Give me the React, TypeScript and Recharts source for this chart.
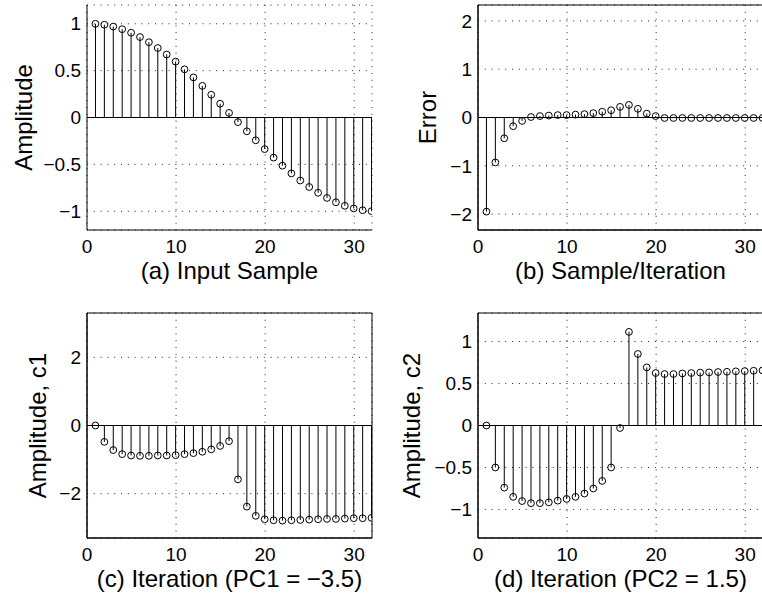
import React from "react";
import { Bar, CartesianGrid, ComposedChart, Label, ReferenceArea, ReferenceLine, XAxis, YAxis } from "recharts";

// sample index 1..32
const samples = [1, 2, 3, 4, 5, 6, 7, 8, 9, 10, 11, 12, 13, 14, 15, 16, 17, 18, 19, 20, 21, 22, 23, 24, 25, 26, 27, 28, 29, 30, 31, 32];
const xTicks = [0, 10, 20, 30];

// (a) input sample
const inputSample = [
  0.999, 0.989, 0.97, 0.942, 0.904, 0.858, 0.803, 0.741, 0.672, 0.596, 0.514, 0.428, 0.337, 0.243, 0.147, 0.049,
  -0.049, -0.147, -0.243, -0.337, -0.428, -0.514, -0.596, -0.672, -0.741, -0.803, -0.858, -0.904, -0.942, -0.97, -0.989, -0.999,
];
// (b) error
const errorValues = [
  -1.95, -0.93, -0.43, -0.18, -0.07, 0.01, 0.03, 0.04, 0.05, 0.05, 0.06, 0.07, 0.09, 0.12, 0.15, 0.22,
  0.26, 0.18, 0.08, 0.03, -0.01, -0.01, -0.01, -0.01, -0.01, -0.01, -0.01, -0.01, -0.01, -0.01, -0.01, -0.01,
];
// (c) c1
const c1Values = [
  0, -0.48, -0.72, -0.84, -0.88, -0.89, -0.89, -0.88, -0.88, -0.87, -0.84, -0.81, -0.77, -0.7, -0.6, -0.46,
  -1.58, -2.38, -2.65, -2.75, -2.78, -2.79, -2.78, -2.77, -2.76, -2.75, -2.74, -2.74, -2.73, -2.72, -2.72, -2.71,
];
// (d) c2
const c2Values = [
  0, -0.5, -0.74, -0.85, -0.9, -0.925, -0.925, -0.915, -0.895, -0.875, -0.85, -0.81, -0.75, -0.66, -0.5, -0.03,
  1.115, 0.852, 0.692, 0.625, 0.613, 0.613, 0.62, 0.625, 0.63, 0.632, 0.637, 0.64, 0.645, 0.648, 0.652, 0.656,
];

const FONT = "'Liberation Sans', Arial, Helvetica, sans-serif";

const fmt = (v: number) => (v < 0 ? "\u2212" + String(-v) : String(v));

// stem: line from zero to the value, open circle at the value
const Stem = (props: any) => {
  const { x, y, width, height, payload } = props;
  if (x == null || y == null) return null;
  const cx = x + width / 2;
  const a = Math.min(y, y + height);
  const b = Math.max(y, y + height);
  const cy = payload.v >= 0 ? a : b;
  const base = payload.v >= 0 ? b : a;
  return (
    <g>
      <line x1={cx} x2={cx} y1={base} y2={cy} stroke="#000" strokeWidth={1} />
      <circle cx={cx} cy={cy} r={3.4} fill="none" stroke="#000" strokeWidth={1} />
    </g>
  );
};

interface PanelProps {
  values: number[];
  yDomain: [number, number];
  yTicks: number[];
  yLabel: string;
  yLabelOffset: number;
  xLabel: string;
  left: number;
  top: number;
  yAxisWidth: number;
  marginTop: number;
  xAxisHeight: number;
  box: boolean;
}

function StemPanel(p: PanelProps) {
  const data = samples.map((n, i) => ({ n, v: p.values[i] }));
  const width = p.yAxisWidth + 285 + 9;
  const height = p.marginTop + 225 + p.xAxisHeight;
  return (
    <div style={{ position: "absolute", left: p.left, top: p.top }}>
      <ComposedChart width={width} height={height} data={data} margin={{ top: p.marginTop, right: 9, left: 0, bottom: 0 }}>
        <CartesianGrid stroke="#222" strokeDasharray="1 5.8" />
        <XAxis
          dataKey="n"
          type="number"
          domain={[0, 32]}
          allowDataOverflow
          ticks={xTicks}
          tickLine={false}
          tickSize={0}
          tickMargin={10}
          height={p.xAxisHeight}
          axisLine={{ stroke: "#000" }}
          tick={{ fill: "#000", fontSize: 19, fontFamily: FONT }}
        >
          <Label value={p.xLabel} position="insideTop" offset={32} style={{ fill: "#000", fontSize: 24, fontFamily: FONT }} />
        </XAxis>
        <YAxis
          type="number"
          domain={p.yDomain}
          allowDataOverflow
          ticks={p.yTicks}
          tickFormatter={fmt}
          tickLine={false}
          tickSize={0}
          tickMargin={6}
          width={p.yAxisWidth}
          axisLine={{ stroke: "#000" }}
          tick={{ fill: "#000", fontSize: 19, fontFamily: FONT }}
        >
          <Label
            value={p.yLabel}
            angle={-90}
            position="insideLeft"
            offset={p.yLabelOffset}
            style={{ fill: "#000", fontSize: 24, fontFamily: FONT, textAnchor: "middle" }}
          />
        </YAxis>
        {p.box && (
          <ReferenceArea x1={0} x2={32} y1={p.yDomain[0]} y2={p.yDomain[1]} fill="none" stroke="#000" strokeWidth={1} ifOverflow="visible" />
        )}
        <ReferenceLine y={0} stroke="#000" strokeWidth={1} />
        <Bar dataKey="v" barSize={2} shape={<Stem />} isAnimationActive={false} />
      </ComposedChart>
    </div>
  );
}

export default function App() {
  return (
    <div
      style={{
        position: "absolute",
        left: 0,
        top: 0,
        width: 762,
        height: 596,
        overflow: "hidden",
        background: "#fff",
        fontFamily: FONT,
      }}
    >
      <StemPanel
        values={inputSample}
        yDomain={[-1.2, 1.2]}
        yTicks={[-1, -0.5, 0, 0.5, 1]}
        yLabel="Amplitude"
        yLabelOffset={23.5}
        xLabel="(a) Input Sample"
        left={0}
        top={0}
        yAxisWidth={87}
        marginTop={5}
        xAxisHeight={68}
        box={false}
      />
      <StemPanel
        values={errorValues}
        yDomain={[-2.33, 2.33]}
        yTicks={[-2, -1, 0, 1, 2]}
        yLabel="Error"
        yLabelOffset={46.5}
        xLabel="(b) Sample/Iteration"
        left={381}
        top={0}
        yAxisWidth={97}
        marginTop={5}
        xAxisHeight={68}
        box
      />
      <StemPanel
        values={c1Values}
        yDomain={[-3.3, 3.3]}
        yTicks={[-2, 0, 2]}
        yLabel="Amplitude, c1"
        yLabelOffset={37.5}
        xLabel="(c) Iteration (PC1 = −3.5)"
        left={0}
        top={298}
        yAxisWidth={87}
        marginTop={15}
        xAxisHeight={58}
        box
      />
      <StemPanel
        values={c2Values}
        yDomain={[-1.34, 1.34]}
        yTicks={[-1, -0.5, 0, 0.5, 1]}
        yLabel="Amplitude, c2"
        yLabelOffset={30.6}
        xLabel="(d) Iteration (PC2 = 1.5)"
        left={381}
        top={298}
        yAxisWidth={97}
        marginTop={15}
        xAxisHeight={58}
        box
      />
    </div>
  );
}
